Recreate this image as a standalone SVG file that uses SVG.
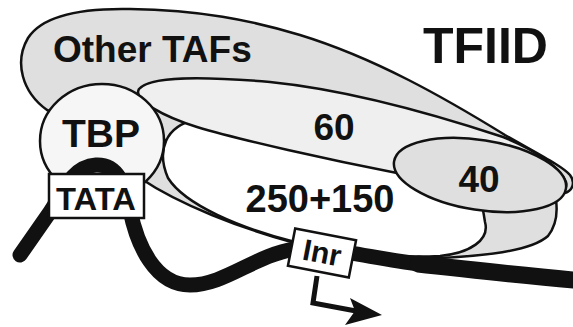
<svg xmlns="http://www.w3.org/2000/svg" width="573" height="327" viewBox="0 0 573 327">
  <style>
    .shape { stroke: #111; stroke-width: 2.5; stroke-linejoin: round; }
    .grey { fill: #dfdfdf; }
    .light { fill: #efefef; }
    .pale { fill: #f6f6f6; }
    .white { fill: #ffffff; }
    .lbl { font-family: "Liberation Sans", Arial, Helvetica, sans-serif; font-weight: bold; fill: #111; }
    .box { fill: #ffffff; stroke: #111; stroke-width: 2.5; }
    .dna { fill: none; stroke: #111; stroke-linecap: round; stroke-linejoin: round; }
  </style>
  <rect width="573" height="327" fill="#ffffff"/>

  <!-- Other TAFs: large grey lobe across the top -->
  <g id="other-tafs">
    <path class="shape grey" d="M 47,110 C 22,92 14,62 28,38 C 42,16 80,8 130,9 C 200,10 250,20 300,35 C 375,58 445,98 505,135 C 540,155 562,166 570,175 C 576,183 572,191 565,193 L 140,150 Z"/>
    <text class="lbl" x="53" y="62" font-size="37">Other TAFs</text>
  </g>

  <!-- Grey underside visible below the 250+150 body -->
  <g id="underside">
    <path class="shape grey" d="M 140,178 C 180,205 240,228 295,243 C 350,256 400,260 440,258 C 480,256 530,252 548,236 C 556,226 558,215 556,200 L 400,140 L 150,140 Z"/>
  </g>

  <!-- TAF 250+150: white body -->
  <g id="taf-250-150">
    <path class="shape white" d="M 195,120 C 166,126 156,150 168,178 C 185,205 240,228 295,242 C 360,256 405,258 440,256 C 470,253 490,240 485,222 C 484,215 483,210 482,205 L 420,165 L 210,118 Z"/>
    <text class="lbl" x="320" y="212" font-size="38" text-anchor="middle">250+150</text>
  </g>

  <!-- TAF 60: long tilted lobe -->
  <g id="taf-60">
    <path class="shape light" d="M 139,89 C 150,76 200,76 270,82 C 330,88 400,103 503,137 C 538,151 560,168 566,182 C 570,196 540,203 480,195 L 397,173 C 330,160 240,140 197,127 C 165,117 132,100 139,89 Z"/>
    <text class="lbl" x="334" y="140" font-size="37" text-anchor="middle">60</text>
  </g>

  <!-- TAF 40 -->
  <g id="taf-40">
    <ellipse class="shape grey" cx="480" cy="175" rx="87" ry="35" transform="rotate(9 480 175)"/>
    <text class="lbl" x="479" y="192" font-size="37" text-anchor="middle">40</text>
  </g>

  <!-- TBP -->
  <g id="tbp">
    <ellipse class="shape pale" cx="102" cy="141" rx="62" ry="57"/>
    <text class="lbl" x="101" y="147" font-size="39" text-anchor="middle">TBP</text>
  </g>

  <!-- DNA strand and transcription start arrow -->
  <g id="connectors">
    <path class="dna" stroke-width="15" d="M 20,255 L 50,212 C 62,195 70,167 96,165 C 118,164 125,185 130,210 C 137,245 155,285 190,285 C 225,285 255,255 295,249 C 330,246 370,258 420,264"/>
    <path class="dna" stroke-width="17" d="M 418,264 C 475,270 525,276 585,281"/>
    <path d="M 317,276 L 313,303 L 356,311" fill="none" stroke="#111" stroke-width="5" stroke-linejoin="miter"/>
    <path d="M 350,298 L 382,315 L 345,325 L 355,311 Z" fill="#111"/>
  </g>

  <!-- TATA element -->
  <g id="tata">
    <rect class="box" x="49" y="174" width="95" height="44"/>
    <text class="lbl" x="96" y="210" font-size="32" text-anchor="middle" textLength="80" lengthAdjust="spacingAndGlyphs">TATA</text>
  </g>

  <!-- Initiator element -->
  <g id="inr" transform="translate(322 253) rotate(11)">
    <rect class="box" x="-31" y="-19" width="62" height="38"/>
    <text class="lbl" x="0" y="10" font-size="30" text-anchor="middle">Inr</text>
  </g>

  <!-- Complex label -->
  <g id="tfiid">
    <text class="lbl" x="423" y="63" font-size="50">TFIID</text>
  </g>
</svg>
